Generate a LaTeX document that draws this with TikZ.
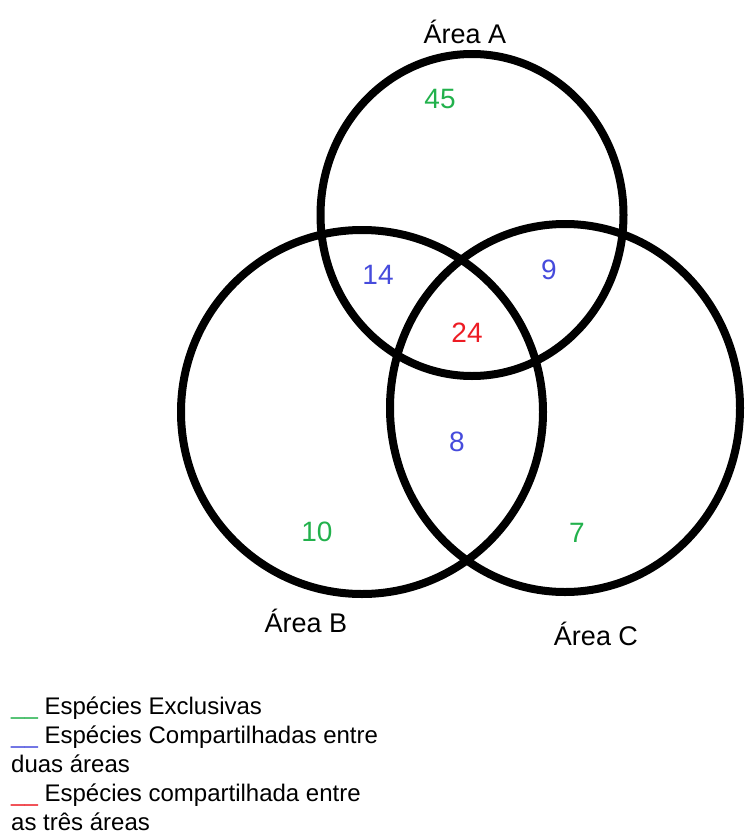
\documentclass[tikz,border=0pt]{standalone}
\usepackage{fontspec}
\setmainfont{Liberation Sans}
\usetikzlibrary{shapes.geometric}
\definecolor{exclgreen}{RGB}{34,177,76}
\definecolor{twoblue}{RGB}{70,75,220}
\definecolor{threered}{RGB}{237,28,36}
\tikzset{
    venn/.style={draw, ellipse, line width=8pt, inner sep=0pt},
    arealabel/.style={anchor=base, inner sep=0pt, font=\fontsize{27}{32}\selectfont},
    count/.style={anchor=base, inner sep=0pt, font=\fontsize{28}{32}\selectfont},
    legendline/.style={anchor=base west, inner sep=0pt, font=\fontsize{24}{29}\selectfont},
}
\begin{document}
\begin{tikzpicture}[x=1pt, y=-1pt]
        \useasboundingbox (0, 0) rectangle (746, 835);
        %draw area A, B and C
        \node[venn, minimum width=303pt, minimum height=322pt] (areaA) at (472, 215) {};
        \node[venn, minimum width=362pt, minimum height=364pt] (areaB) at (362, 412) {};
        \node[venn, minimum width=350pt, minimum height=368pt] (areaC) at (565, 408) {};
        %label area A, B and C
        \node[arealabel] (labelA) at (465, 43) {Área A};
        \node[arealabel] (labelB) at (306, 632) {Área B};
        \node[arealabel] (labelC) at (596, 645) {Área C};
        %exclusive species
        \node[count, exclgreen] (onlyA) at (440, 108) {45};
        \node[count, exclgreen] (onlyB) at (317, 541) {10};
        \node[count, exclgreen] (onlyC) at (577, 542) {7};
        %species shared by two areas
        \node[count, twoblue] (sharedAB) at (378, 284) {14};
        \node[count, twoblue] (sharedAC) at (549, 279) {9};
        \node[count, twoblue] (sharedBC) at (457, 451) {8};
        %species shared by the three areas
        \node[count, threered] (sharedABC) at (467, 342) {24};
        %legend
        \node[legendline] (legExcl) at (11, 714) {\textcolor{exclgreen}{\_\_} Espécies Exclusivas};
        \node[legendline] (legTwo) at (11, 743) {\textcolor{twoblue}{\_\_} Espécies Compartilhadas entre};
        \node[legendline] (legTwoCont) at (11, 772) {duas áreas};
        \node[legendline] (legThree) at (11, 801) {\textcolor{threered}{\_\_} Espécies compartilhada entre};
        \node[legendline] (legThreeCont) at (11, 830) {as três áreas};
    \end{tikzpicture}
\end{document}
